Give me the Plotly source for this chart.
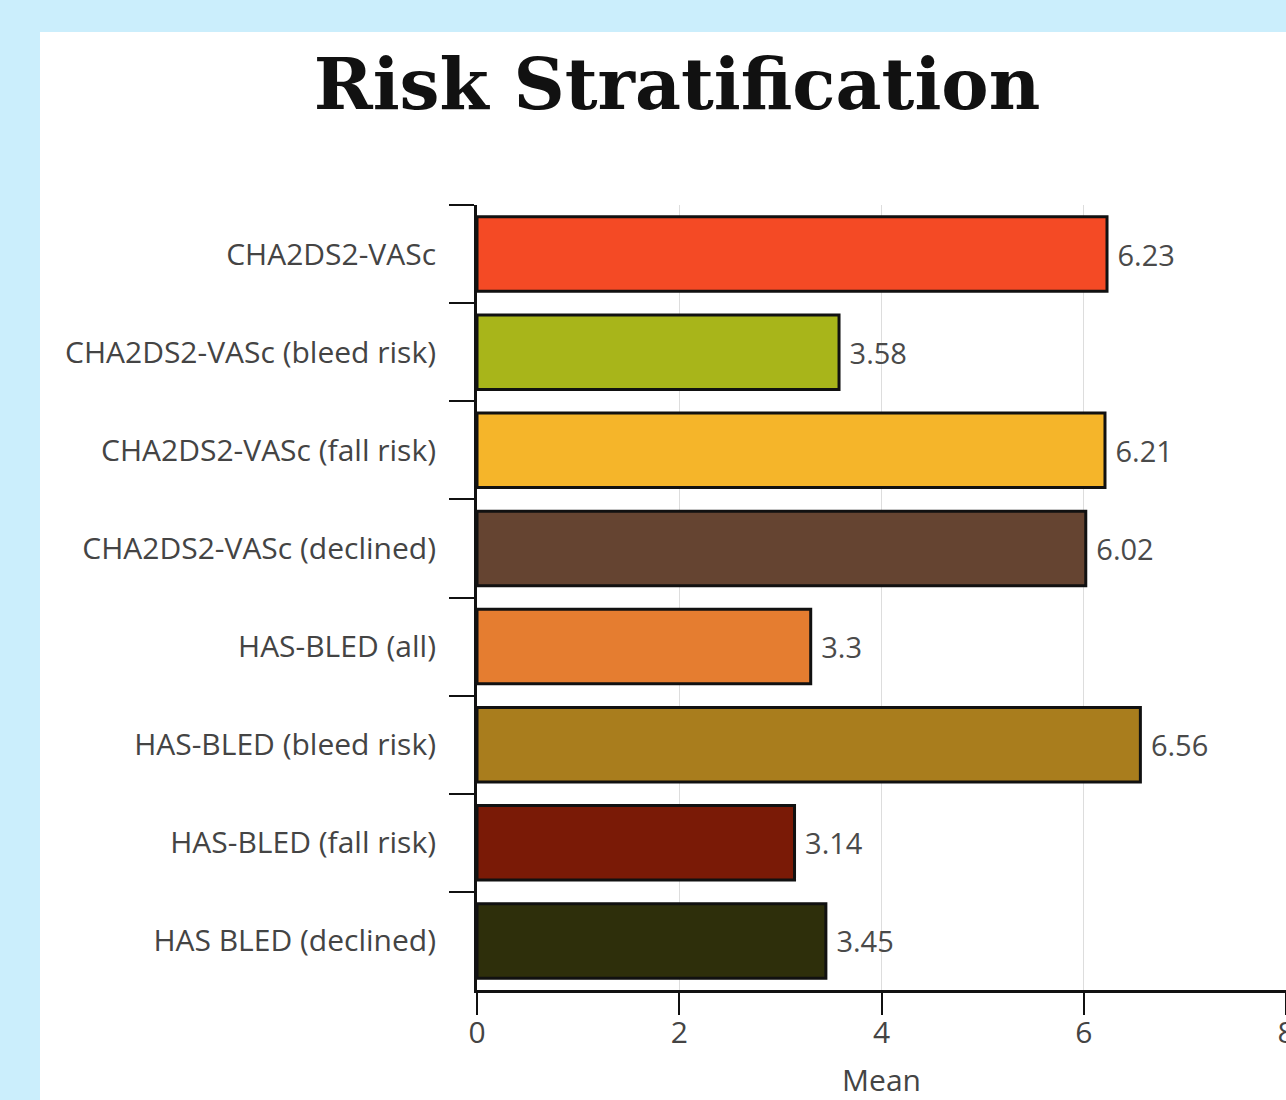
import plotly.graph_objects as go

categories = [
    "CHA2DS2-VASc",
    "CHA2DS2-VASc (bleed risk)",
    "CHA2DS2-VASc (fall risk)",
    "CHA2DS2-VASc (declined)",
    "HAS-BLED (all)",
    "HAS-BLED (bleed risk)",
    "HAS-BLED (fall risk)",
    "HAS BLED (declined)",
]
means = [6.23, 3.58, 6.21, 6.02, 3.3, 6.56, 3.14, 3.45]
bar_colors = ["#f44a25", "#a8b51a", "#f5b52a", "#654431",
              "#e57d30", "#a97d1d", "#7a1a06", "#2e2f0b"]
x_ticks = [0, 2, 4, 6, 8]

W, H = 1286, 1100
ML, MR, MT, MB = 477, 0, 205, 110
PW, PH = W - ML - MR, H - MT - MB

label_font = dict(family="Open Sans, sans-serif", size=30, color="#444444")

fig = go.Figure(
    go.Bar(
        y=categories,
        x=means,
        orientation="h",
        marker=dict(color=bar_colors, line=dict(color="#111111", width=3)),
        texttemplate="\u00a0%{x}",
        textposition="outside",
        textfont=dict(family="Open Sans, sans-serif", size=29, color="#4a4a4a"),
        cliponaxis=False,
        hoverinfo="x+y",
    )
)

# white card behind the chart
fig.add_shape(
    type="rect", xref="paper", yref="paper", layer="below",
    x0=(40 - ML) / PW, x1=1.2,
    y0=-0.3, y1=(H - MB - 32) / PH,
    fillcolor="white", line=dict(width=0),
)

fig.update_layout(
    width=W, height=H,
    autosize=False,
    margin=dict(l=ML, r=MR, t=MT, b=MB, pad=0, autoexpand=False),
    paper_bgcolor="#cbeefc",
    plot_bgcolor="rgba(0,0,0,0)",
    bargap=0.24,
    showlegend=False,
    title=dict(
        text="Risk Stratification",
        x=677 / W, xanchor="center", xref="container",
        y=1 - 84 / H, yanchor="middle", yref="container",
        font=dict(family="DejaVu Serif, serif", size=71, color="#111111", weight="bold"),
    ),
    xaxis=dict(
        range=[0, 8],
        tickvals=x_ticks,
        ticks="outside", ticklen=22, tickwidth=2, tickcolor="#111111",
        showline=True, linewidth=3, linecolor="#111111",
        showgrid=True, gridcolor="#dddddd", gridwidth=1,
        zeroline=False,
        automargin=False,
        tickfont=label_font,
        ticklabeloverflow="allow",
        ticklabelstandoff=-8,
        title=dict(text="Mean", font=label_font, standoff=26),
    ),
    yaxis=dict(
        autorange="reversed",
        tickson="boundaries",
        ticks="outside", ticklen=25, tickwidth=2, tickcolor="#111111",
        showline=True, linewidth=3, linecolor="#111111",
        showgrid=False,
        automargin=False,
        tickfont=label_font,
        ticklabelstandoff=32,
    ),
)

fig.write_html("out.html")
